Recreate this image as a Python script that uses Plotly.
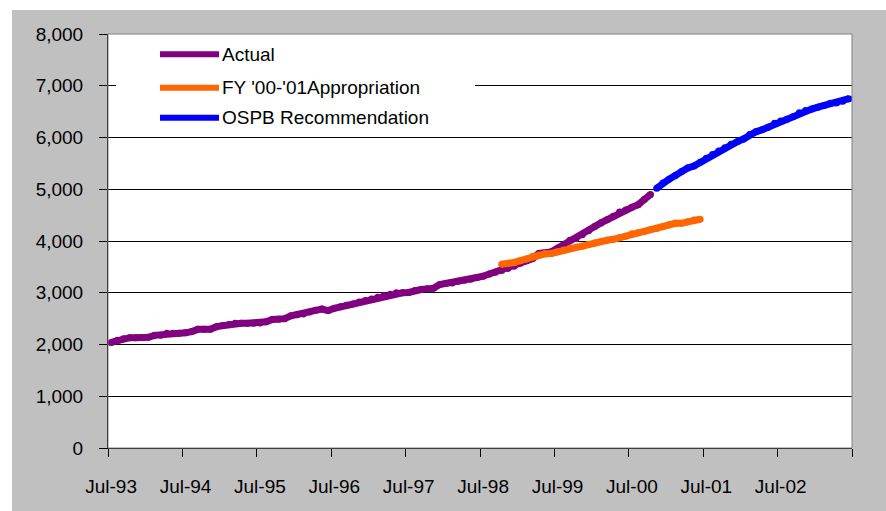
import plotly.graph_objects as go
import pandas as pd

# Monthly categories, Jul-93 through Jun-03
MONTHS = [d.strftime("%b-%y") for d in pd.period_range("1993-07", "2003-06", freq="M")]
TICK_LABELS = ["Jul-93", "Jul-94", "Jul-95", "Jul-96", "Jul-97",
               "Jul-98", "Jul-99", "Jul-00", "Jul-01", "Jul-02"]
Y_TICKS = [0, 1000, 2000, 3000, 4000, 5000, 6000, 7000, 8000]

SERIES_NAMES = ["Actual", "FY '00-'01Appropriation", "OSPB Recommendation"]
SERIES_COLORS = ["#800080", "#FF6600", "#0000FF"]
SERIES_START = ["Jul-93", "Oct-98", "Nov-00"]

ACTUAL = [2040, 2080, 2110, 2132, 2132, 2135, 2140, 2177, 2180, 2216, 2216, 2218,
          2225, 2250, 2293, 2293, 2295, 2345, 2365, 2385, 2409, 2409, 2410, 2410,
          2415, 2440, 2485, 2487, 2500, 2555, 2575, 2590, 2630, 2660, 2685, 2655,
          2700, 2730, 2760, 2785, 2820, 2850, 2880, 2915, 2945, 2970, 3000, 3000,
          3005, 3045, 3062, 3075, 3088, 3160, 3178, 3190, 3222, 3240, 3262, 3295,
          3320, 3360, 3395, 3430, 3470, 3510, 3568, 3620, 3660, 3760, 3762, 3790,
          3860, 3925, 4015, 4050, 4120, 4200, 4280, 4350, 4410, 4480, 4560, 4600,
          4650, 4700, 4800, 4900]

APPROPRIATION = [3550, 3560, 3585, 3620, 3650, 3705, 3730, 3752, 3760, 3790, 3828, 3860,
                 3885, 3900, 3930, 3960, 3990, 4015, 4033, 4065, 4090, 4140, 4160, 4182,
                 4215, 4240, 4275, 4315, 4342, 4342, 4370, 4405, 4420]

OSPB = [5020, 5120, 5195, 5265, 5345, 5410, 5450, 5520, 5600, 5670, 5740, 5800,
        5870, 5920, 5970, 6060, 6110, 6150, 6200, 6275, 6320, 6355, 6400, 6480,
        6520, 6550, 6585, 6620, 6660, 6665, 6700, 6750]

SERIES_VALUES = [ACTUAL, APPROPRIATION, OSPB]

FONT = "Liberation Sans, Arial, sans-serif"
n = len(MONTHS)

fig = go.Figure()
for name, color, start, vals in zip(SERIES_NAMES, SERIES_COLORS, SERIES_START, SERIES_VALUES):
    i0 = MONTHS.index(start)
    idx = list(range(i0, i0 + len(vals)))
    # round dots at each vertex give the thick line rounded joins and caps
    fig.add_trace(go.Scatter(
        x=idx, y=vals, mode="lines+markers", name=name,
        line=dict(color=color, width=7),
        marker=dict(color=color, size=7, line_width=0),
        text=[MONTHS[i] for i in idx],
        hovertemplate="%{text}: %{y:,}<extra>" + name + "</extra>",
        showlegend=False,
    ))

# category boundaries every 12 months carry the tick marks
boundaries = [MONTHS.index(t) - 0.5 for t in TICK_LABELS] + [n - 0.5]
label_pos = [MONTHS.index(t) for t in TICK_LABELS]

fig.update_layout(
    width=886, height=511,
    margin=dict(l=108, r=34, t=34, b=63),
    paper_bgcolor="#C0C0C0",
    plot_bgcolor="#FFFFFF",
    font=dict(family=FONT, size=19, color="#000000"),
    xaxis=dict(
        range=[-0.5, n - 0.5], tickvals=boundaries, showticklabels=False,
        ticks="outside", ticklen=8, tickcolor="#000000", tickwidth=1,
        showline=True, linecolor="#000000", linewidth=1,
        showgrid=False, zeroline=False,
    ),
    xaxis2=dict(
        overlaying="x", anchor="y", side="bottom",
        range=[-0.5, n - 0.5], tickvals=label_pos, ticktext=TICK_LABELS,
        ticks="", showline=False, showgrid=False, zeroline=False,
        tickfont=dict(family=FONT, size=19, color="#000000"),
        ticklabelstandoff=25,
    ),
    yaxis=dict(
        range=[0, 8000], tickvals=Y_TICKS, tickformat=",",
        ticks="outside", ticklen=8, tickcolor="#000000", tickwidth=1,
        showline=True, linecolor="#000000", linewidth=1,
        showgrid=True, gridcolor="#000000", gridwidth=1,
        zeroline=False,
        tickfont=dict(family=FONT, size=19, color="#000000"),
        ticklabelstandoff=12,
    ),
    showlegend=False,
)

# axis carrying the labels needs a (hidden) trace to be drawn
fig.add_trace(go.Scatter(x=[label_pos[0]], y=[0], xaxis="x2", mode="markers",
                         marker=dict(opacity=0), hoverinfo="skip", showlegend=False))

shapes = [
    # white margin strips around the grey chart area
    dict(type="rect", xref="paper", yref="paper", x0=-0.2, x1=1.1,
         y0=(448 - 10) / 414, y1=1.2, fillcolor="#FFFFFF", line_width=0, layer="below"),
    dict(type="rect", xref="paper", yref="paper", x0=-0.2, x1=(12 - 108) / 744,
         y0=-0.2, y1=1.2, fillcolor="#FFFFFF", line_width=0, layer="below"),
    # plot area frame
    dict(type="rect", xref="paper", yref="paper", x0=0, x1=1, y0=0, y1=1,
         line=dict(color="#808080", width=1), fillcolor="rgba(0,0,0,0)", layer="above"),
    # legend box
    dict(type="rect", xref="paper", yref="paper", x0=0.0108, x1=0.4933,
         y0=0.768, y1=0.995, fillcolor="#FFFFFF", line_width=0, layer="above"),
]
annotations = []
legend_y = [0.951, 0.8703, 0.7978]
for name, color, ly in zip(SERIES_NAMES, SERIES_COLORS, legend_y):
    shapes.append(dict(type="line", xref="paper", yref="paper", x0=0.0699, x1=0.1492,
                       y0=ly, y1=ly, line=dict(color=color, width=6), layer="above"))
    annotations.append(dict(xref="paper", yref="paper", x=0.1505, y=ly, text=name,
                            showarrow=False, xanchor="left", yanchor="middle",
                            font=dict(family=FONT, size=19, color="#000000")))
fig.update_layout(shapes=shapes, annotations=annotations)

fig.write_html("out.html")
